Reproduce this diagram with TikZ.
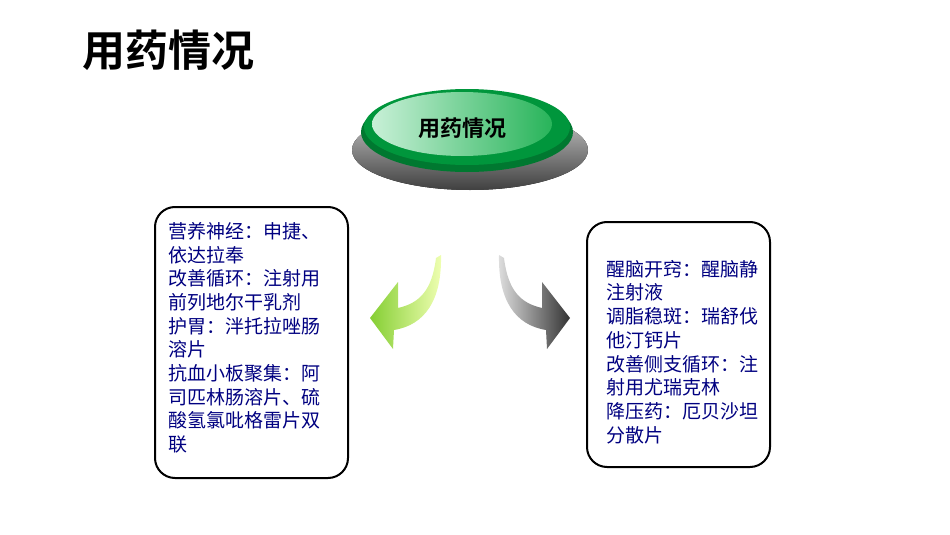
\documentclass[tikz,border=0pt]{standalone}
\usepackage{fontspec}
\setmainfont{Noto Sans CJK SC}
\newfontfamily\cjkb{Noto Sans CJK SC Bold}
\definecolor{btng}{RGB}{0,150,60}
\definecolor{btnl}{RGB}{200,240,215}
\definecolor{btnm}{RGB}{40,180,90}
\begin{document}
\begin{tikzpicture}[x=1pt,y=-1pt,
  box/.style={draw=black,line width=2pt,rounded corners=20pt},
  txt/.style={anchor=north west,align=left,font=\fontsize{19}{23.7}\selectfont,text=blue!50!black,inner sep=0pt}]
\useasboundingbox (0,0) rectangle (950,535);
\node[anchor=west,font=\cjkb\fontsize{43}{46}\selectfont,inner sep=0pt] (title) at (82,50) {用药情况};
% button
\fill[top color=gray!40,bottom color=black!75] (470,150) ellipse [x radius=118,y radius=40];
\fill[btng!80!black] (467,132) ellipse [x radius=106,y radius=40];
\fill[btng] (467,127) ellipse [x radius=103,y radius=38];
\shade[left color=btnl,right color=btnm] (462,124) ellipse [x radius=90,y radius=32];
\node[font=\cjkb\fontsize{22}{24}\selectfont] (btn) at (462,128) {用药情况};
% arrows
\shade[left color=green!60!black!60!yellow!80,right color=green!20!yellow!30] (436,258) .. controls (432,290) and (420,303) .. (398,308) -- (398,282) -- (370,318) -- (393,349) -- (394,330) .. controls (425,325) and (442,300) .. (441,255) -- cycle;
\shade[left color=gray!25,right color=black!80] (504,258) .. controls (508,290) and (520,303) .. (542,308) -- (542,282) -- (570,318) -- (547,349) -- (546,330) .. controls (515,325) and (498,300) .. (499,255) -- cycle;
% boxes
\draw[box] (155,207) rectangle (348,478);
\draw[box] (587,222) rectangle (770,467);
\node[txt] (lt) at (168,222) {营养神经：申捷、\\依达拉奉\\改善循环：注射用\\前列地尔干乳剂\\护胃：泮托拉唑肠\\溶片\\抗血小板聚集：阿\\司匹林肠溶片、硫\\酸氢氯吡格雷片双\\联};
\node[txt] (rt) at (606,260) {醒脑开窍：醒脑静\\注射液\\调脂稳斑：瑞舒伐\\他汀钙片\\改善侧支循环：注\\射用尤瑞克林\\降压药：厄贝沙坦\\分散片};
\end{tikzpicture}
\end{document}
